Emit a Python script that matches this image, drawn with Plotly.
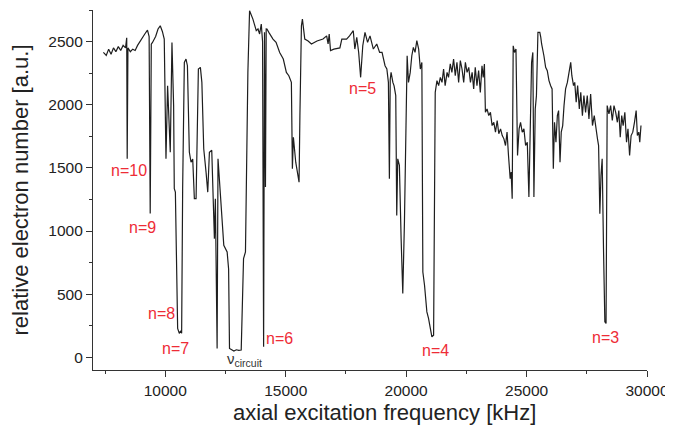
"""Axial excitation spectrum: relative electron number vs. excitation frequency."""

import plotly.graph_objects as go

# frequency in kHz
FREQ_KHZ = [
    7430, 7550, 7650, 7750, 7850, 7950, 8050, 8150, 8250, 8350, 8400, 8420, 8450,
    8550, 8650, 8750, 8850, 8950, 9050, 9150, 9262, 9330, 9375, 9420, 9470, 9600,
    9700, 9792, 9880, 9958, 10030, 10097, 10208, 10278, 10347, 10375, 10420, 10514,
    10583, 10640, 10680, 10722, 10792, 10861, 10920, 11000, 11070, 11140, 11208,
    11280, 11375, 11458, 11520, 11597, 11694, 11764, 11833, 11930, 11990, 12040,
    12080, 12120, 12153, 12190, 12250, 12319, 12430, 12569, 12630, 12667, 12750,
    12850, 12950, 13050, 13153, 13200, 13250, 13330, 13430, 13500, 13639, 13778,
    13850, 13917, 13986, 14040, 14083, 14120, 14160, 14190, 14222, 14300, 14472,
    14600, 14750, 14900, 15028, 15130, 15236, 15278, 15320, 15417, 15555, 15590,
    15653, 15694, 15792, 15930, 16069, 16300, 16550, 16700, 16760, 16806, 16861,
    17000, 17250, 17330, 17528, 17650, 17806, 17870, 17950, 18030, 18111, 18200,
    18292, 18400, 18500, 18639, 18780, 18900, 19000, 19125, 19200, 19264, 19305,
    19340, 19375, 19450, 19500, 19569, 19610, 19652, 19720, 19792, 19861, 19930,
    20000, 20042, 20097, 20170, 20236, 20300, 20370, 20444, 20520, 20590, 20653,
    20694, 20764, 20861, 20930, 21000, 21069, 21140, 21208, 21280, 21350, 21420,
    21490, 21555, 21620, 21700, 21760, 21833, 21900, 21970, 22040, 22110, 22180,
    22250, 22320, 22390, 22460, 22530, 22600, 22670, 22740, 22805, 22870, 22940,
    23010, 23080, 23150, 23200, 23250, 23292, 23360, 23430, 23500, 23569, 23640,
    23710, 23780, 23847, 23920, 23990, 24060, 24125, 24190, 24250, 24320, 24360,
    24403, 24445, 24500, 24560, 24625, 24690, 24750, 24820, 24890, 24960, 25030,
    25097, 25167, 25208, 25260, 25305, 25360, 25410, 25472, 25550, 25590, 25625,
    25720, 25792, 25860, 25930, 26000, 26060, 26111, 26160, 26220, 26278, 26330,
    26389, 26440, 26500, 26555, 26620, 26694, 26760, 26833, 26880, 26950, 27000,
    27060, 27120, 27190, 27250, 27319, 27380, 27450, 27520, 27590, 27660, 27736,
    27810, 27870, 27944, 27990, 28042, 28090, 28139, 28194, 28250, 28300, 28347,
    28420, 28490, 28560, 28630, 28700, 28770, 28830, 28889, 28950, 29010, 29080,
    29150, 29210, 29278, 29340, 29410, 29480, 29550, 29600, 29660, 29700, 29750,
]

ELECTRONS = [
    2414, 2390, 2440, 2400, 2450, 2420, 2460, 2430, 2470, 2450, 2530, 1572, 2450,
    2420, 2440, 2430, 2470, 2500, 2540, 2560, 2590, 2540, 1138, 2480, 2493, 2540,
    2600, 2625, 2580, 2520, 1572, 2151, 1624, 2493, 1993, 1335, 1308, 229,
    190, 210, 190, 1335, 2335, 2362, 2309, 1624, 1545, 1570, 1256,
    1256, 2283, 2296, 2177, 1651, 1466, 1308, 1624, 1640, 1256, 940,
    1256, 782, 71, 1572, 1400, 1203, 887, 834, 700, 71, 58,
    50, 60, 55, 58, 400, 782, 834, 2256, 2744, 2678, 2586,
    2600, 2560, 2639, 2500, 84, 2573, 1348, 2600, 2599, 2573, 2520,
    2494, 2414, 2362, 2256, 2230, 2177, 1493, 1743, 1545, 1387, 1914,
    2625, 2678, 2520, 2505, 2481, 2505, 2520, 2545, 2481, 2560, 2428,
    2440, 2450, 2520, 2520, 2545, 2586, 2441, 2534, 2414, 2217, 2467,
    2573, 2494, 2545, 2441, 2481, 2414, 2414, 2309, 2283, 2177, 1414,
    2200, 2256, 2177, 2150, 2072, 1124, 1572, 1520, 940, 506, 1071,
    1861, 2388, 2177, 2256, 2388, 2454, 2415, 2507, 2440, 2283, 2335,
    676, 571, 360, 308, 240, 163, 176, 2098, 2191, 2151, 2217,
    2177, 2283, 2151, 2256, 2217, 2323, 2256, 2362, 2230, 2335, 2177,
    2349, 2283, 2177, 2335, 2256, 2296, 2177, 2256, 2125, 2296, 2151,
    2270, 2098, 2309, 2217, 2323, 1940, 1967, 1914, 1940, 1835, 1861,
    1783, 1875, 1770, 1809, 1756, 1730, 1677, 1783, 1598, 1414, 1467,
    1256, 2467, 2414, 2441, 1598, 1809, 1861, 1783, 1809, 1677, 1703,
    1269, 1861, 2335, 2414, 1269, 1967, 2072, 2573, 2573, 2533, 2481,
    2388, 2296, 2270, 2191, 2151, 2125, 1493, 1861, 1703, 1914, 1954,
    1545, 1783, 1835, 1993, 2125, 2177, 2256, 2335, 2230, 2151, 2177,
    2020, 2151, 1967, 2098, 1914, 2072, 1940, 2072, 1888, 2085, 1835,
    1914, 1809, 1730, 1677, 1138, 1440, 1572, 861, 281, 268, 1993,
    1927, 1993, 1875, 1993, 1940, 1861, 1954, 1743, 1914, 1835, 1940,
    1703, 1809, 1598, 1756, 1783, 1861, 1954, 1756, 1783, 1703, 1835,
]

# mode labels and where they sit (kHz, a.u.)
MODE_LABELS = ["n=10", "n=9", "n=8", "n=7", "n=6", "n=5", "n=4", "n=3"]
MODE_X = [8500, 9040, 9830, 10420, 14750, 18170, 21210, 28290]
MODE_Y = [1480, 1030, 350, 73, 152, 2127, 58, 160]

X_TICKS = [10000, 15000, 20000, 25000, 30000]
Y_TICKS = [0, 500, 1000, 1500, 2000, 2500]

RED = "#ee2c36"
AXIS_GRAY = "#333333"
FONT = "Liberation Sans, Arial, sans-serif"

fig = go.Figure()
fig.add_trace(
    go.Scatter(
        x=FREQ_KHZ,
        y=ELECTRONS,
        mode="lines",
        line={"color": "#1e1e1e", "width": 1.2},
        showlegend=False,
        hoverinfo="skip",
    )
)

for label, mx, my in zip(MODE_LABELS, MODE_X, MODE_Y):
    fig.add_annotation(
        x=mx, y=my, text=label, showarrow=False,
        font={"color": RED, "size": 16, "family": FONT},
    )

fig.add_annotation(
    x=13290, y=-20, text="ν<sub>circuit</sub>", showarrow=False,
    font={"color": "#333333", "size": 15, "family": FONT},
)

# x title sits a little right of the plot centre in the original
fig.add_annotation(
    xref="paper", yref="paper", x=0.527, y=0, yshift=-42,
    xanchor="center", yanchor="middle", showarrow=False,
    text="axial excitation frequency [kHz]",
    font={"size": 22, "color": "#222222", "family": FONT},
)

axis_common = {
    "showgrid": False,
    "zeroline": False,
    "showline": True,
    "automargin": False,
    "linecolor": AXIS_GRAY,
    "linewidth": 1.3,
    "ticks": "outside",
    "ticklen": 6,
    "tickwidth": 1.2,
    "tickcolor": AXIS_GRAY,
    "tickformat": "d",
    "tickfont": {"size": 15.5, "color": "#222222", "family": FONT},
}

# the page body adds an 8px offset, so the figure is sized to fit inside it
fig.update_layout(
    width=665,
    height=424,
    margin={"l": 85, "r": 26, "t": 2, "b": 62},
    paper_bgcolor="white",
    plot_bgcolor="white",
    xaxis={
        **axis_common,
        "range": [7000, 30000],
        "tickvals": X_TICKS,
        "minor": {"dtick": 2500, "tick0": 0, "ticks": "outside", "ticklen": 3,
                  "tickcolor": AXIS_GRAY, "showgrid": False},
    },
    yaxis={
        **axis_common,
        "range": [-100, 2750],
        "tickvals": Y_TICKS,
        "minor": {"dtick": 250, "tick0": 0, "ticks": "outside", "ticklen": 3,
                  "tickcolor": AXIS_GRAY, "showgrid": False},
        "title": {"text": "relative electron number [a.u.]",
                  "font": {"size": 22, "color": "#222222", "family": FONT}},
    },
)

fig.write_html("out.html")
